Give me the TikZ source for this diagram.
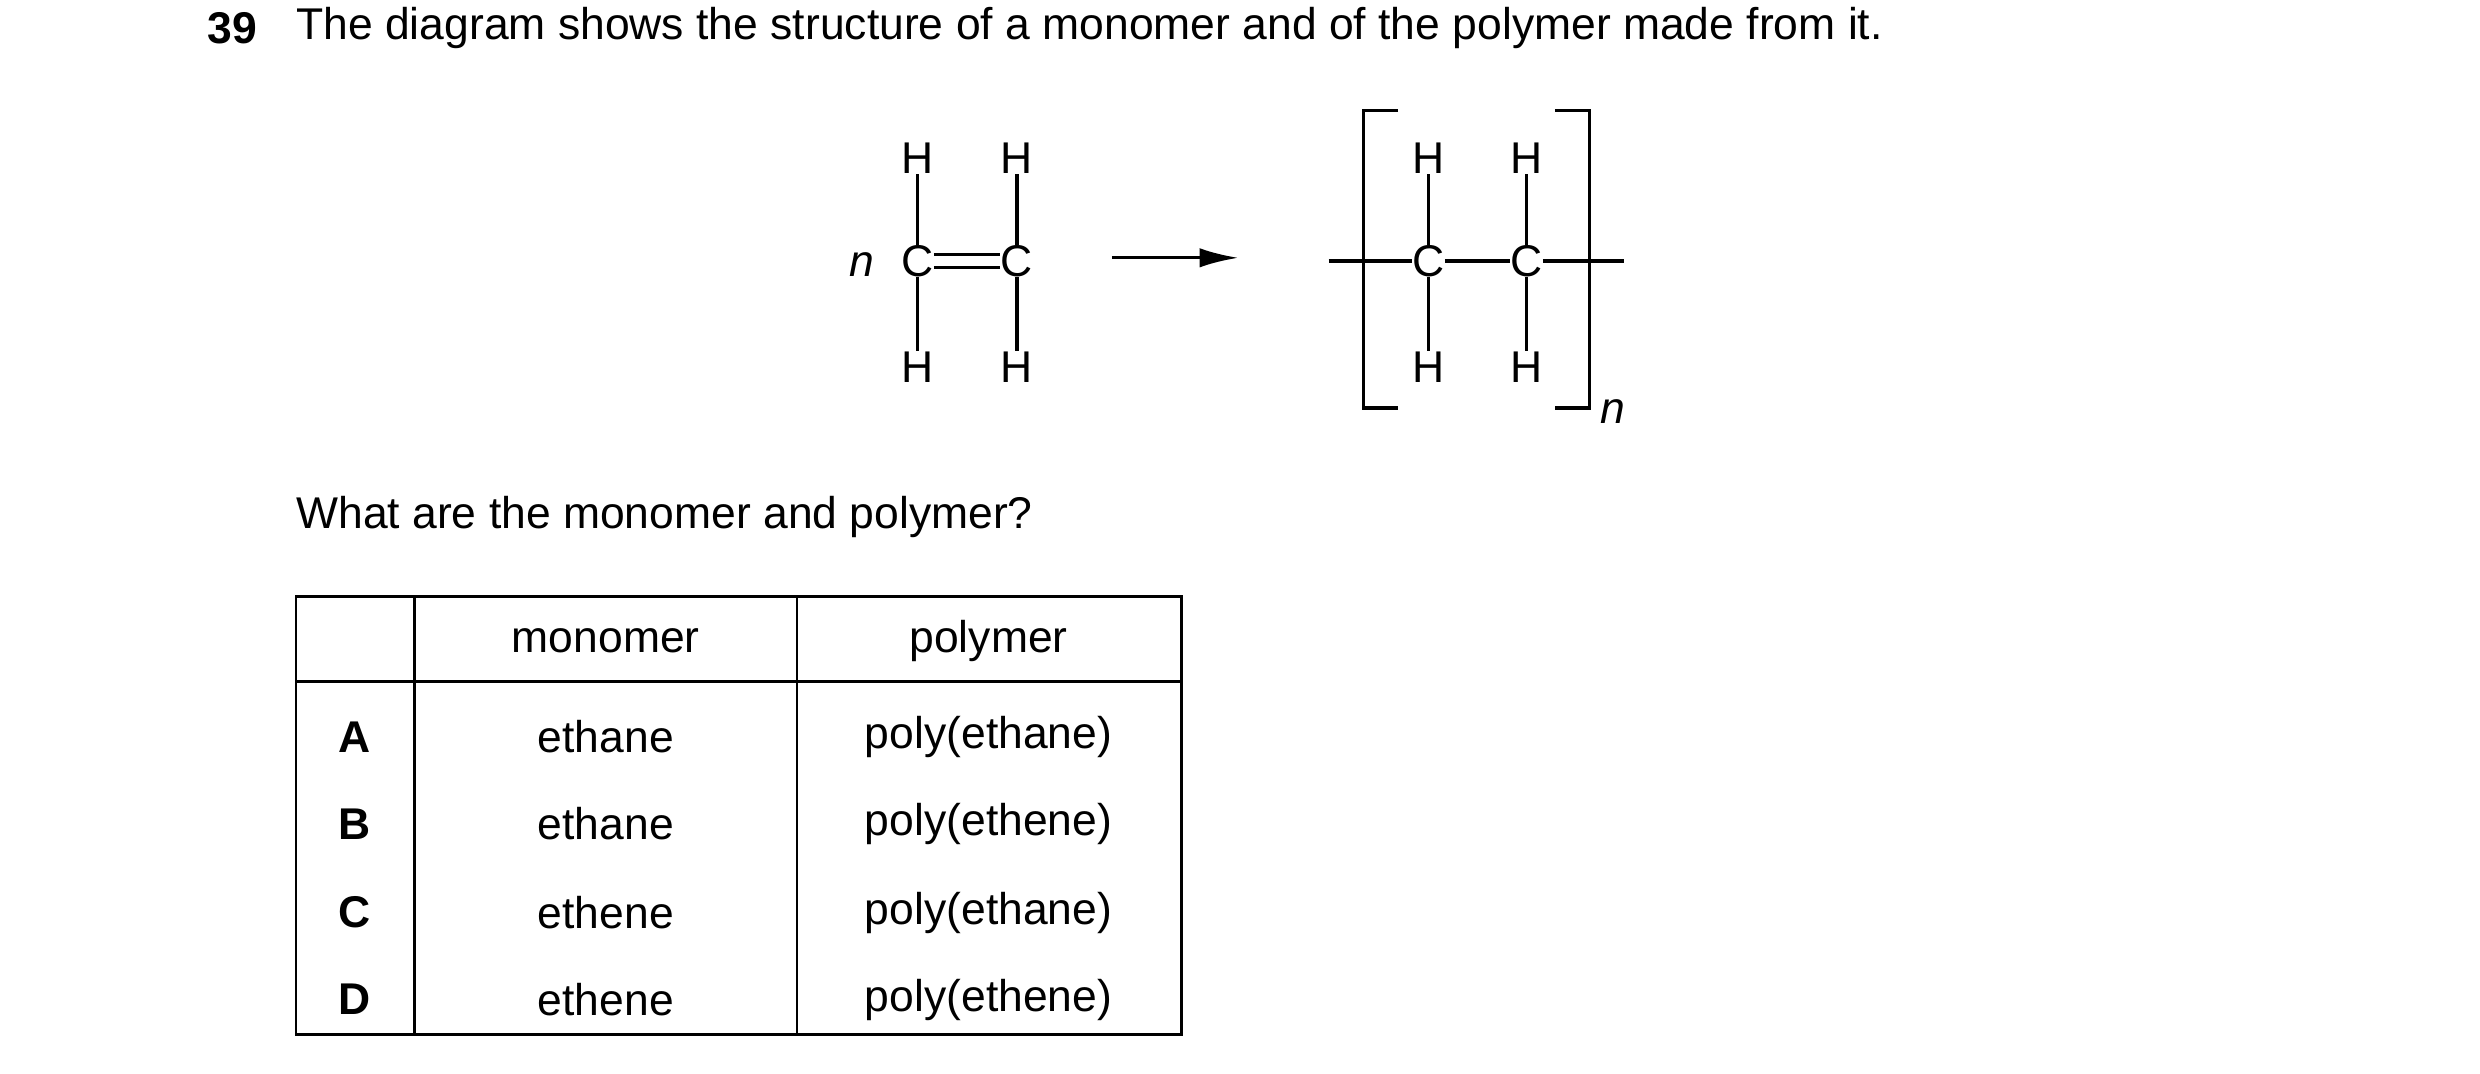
\documentclass[tikz,border=0pt]{standalone}
\usepackage{fontspec}
\setmainfont{Liberation Sans}
\usetikzlibrary{arrows.meta}
\begin{document}
\begin{tikzpicture}[x=0.02cm,y=-0.02cm,
  t/.style={inner sep=0pt,font=\fontsize{16}{19}\selectfont},
  at/.style={t,fill=white,inner sep=1pt},
  ln/.style={line width=1.2pt}]
\useasboundingbox (0,0) rectangle (1568,679);
\node[t,anchor=west,font=\fontsize{16}{19}\selectfont\bfseries] (q) at (131,18) {39};
\node[t,anchor=west] (s) at (187,18) {The diagram shows the structure of a monomer and of the polymer made from it.};
% monomer
\node[t] (h1) at (580,100) {H}; \node[t] (h2) at (643,100) {H};
\node[t] (c1) at (580,165) {C}; \node[t] (c2) at (643,165) {C};
\node[t] (h3) at (580,232) {H}; \node[t] (h4) at (643,232) {H};
\node[t,font=\fontsize{16}{19}\selectfont\itshape] (n1) at (545,167) {n};
\draw[ln] (h1) -- (c1) -- (h3); \draw[ln] (h2) -- (c2) -- (h4);
\draw[ln] ([yshift=-4*0.02cm]c1.east) -- ([yshift=-4*0.02cm]c2.west);
\draw[ln] ([yshift=4*0.02cm]c1.east) -- ([yshift=4*0.02cm]c2.west);
% arrow
\coordinate (a1) at (703,163); \coordinate (a2) at (783,163);
\draw[ln,-{Latex[length=14pt,width=7pt]}] (a1) -- (a2);
% polymer
\node[t] (p1) at (903,100) {H}; \node[t] (p2) at (965,100) {H};
\node[t] (pc1) at (903,165) {C}; \node[t] (pc2) at (965,165) {C};
\node[t] (p3) at (903,232) {H}; \node[t] (p4) at (965,232) {H};
\coordinate (e1) at (840,165); \coordinate (e2) at (1027,165);
\draw[ln] (p1) -- (pc1) -- (p3); \draw[ln] (p2) -- (pc2) -- (p4);
\draw[ln] (e1) -- (pc1) -- (pc2) -- (e2);
\coordinate (bl1) at (884,70); \coordinate (bl2) at (884,258);
\coordinate (br1) at (983,70); \coordinate (br2) at (983,258);
\draw[ln] (bl1) -- ++(-22,0) |- (bl2);
\draw[ln] (br1) -- ++(22,0) |- (br2);
\node[t,font=\fontsize{16}{19}\selectfont\itshape] (n2) at (1020,260) {n};
\node[t,anchor=west] (w) at (187,327) {What are the monomer and polymer?};
% table
\draw[line width=0.9pt] (187,377) rectangle (747,654);
\draw[line width=0.9pt] (187,431) -- (747,431);
\draw[line width=0.9pt] (262,377) -- (262,654);
\draw[line width=0.9pt] (504,377) -- (504,654);
\node[t] (hm) at (383,405) {monomer};
\node[t] (hp) at (625,405) {polymer};
\foreach \L/\m/\p/\y in {A/ethane/poly(ethane)/466,B/ethane/poly(ethene)/521,C/ethene/poly(ethane)/577,D/ethene/poly(ethene)/632}{
  \node[t,font=\fontsize{16}{19}\selectfont\bfseries] (l\L) at (224,\y) {\L};
  \node[t] (m\L) at (383,\y) {\m};
  \node[t] (q\L) at (625,\y) {\p};
}
\end{tikzpicture}
\end{document}
